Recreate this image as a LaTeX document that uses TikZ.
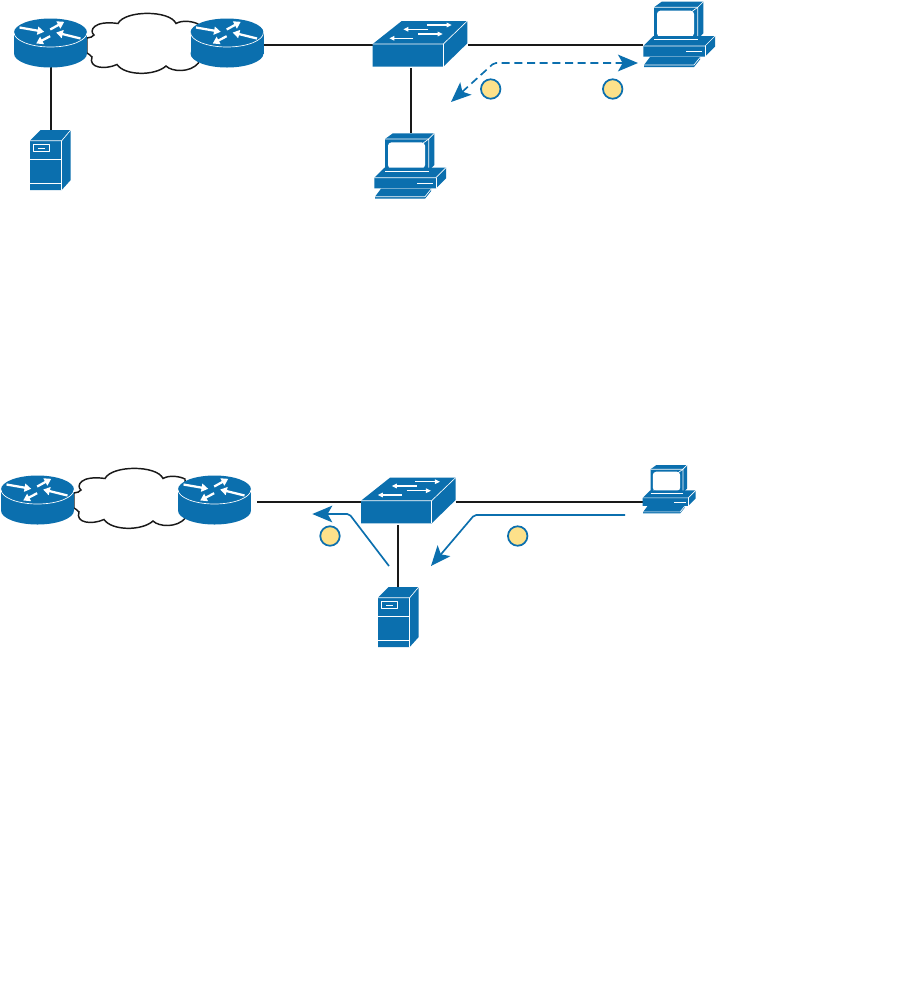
\documentclass[tikz,border=0pt]{standalone}
\usetikzlibrary{arrows.meta}
\definecolor{netblue}{HTML}{0B6FAE}
\definecolor{tagyellow}{HTML}{FDE18A}
\tikzset{
  x=0.75pt,y=-0.75pt,
  hit/.style={inner sep=0pt,outer sep=0pt},
  wire/.style={draw=black!90,line width=1.35pt},
  flow/.style={draw=netblue,line width=1.25pt,rounded corners=1.5pt,-{Stealth[length=15pt,width=12.5pt,inset=3.5pt]}},
  tag/.style={circle,draw=netblue,fill=tagyellow,line width=1.3pt,minimum size=14.6pt,inner sep=0pt},
  body/.style={fill=netblue,draw=none},
  edge/.style={draw=white,line width=0.5pt,line join=round},
  tiny/.style={draw=white,line width=1.7pt,-{Triangle[length=5pt,width=6pt]}},
  thin tiny/.style={draw=white,line width=0.8pt,-{Triangle[length=3.8pt,width=3.4pt]}},
  cloudy/.style={draw=black!90,fill=white,line width=1.1pt},
  router/.pic={
    \fill[body] (-36.5,0) rectangle (36.5,21);
    \fill[body] (0,21) ellipse [x radius=36.5,y radius=14];
    \fill[body] (0,0) ellipse [x radius=36.5,y radius=14];
    \draw[edge] (-36.5,0) arc [start angle=180,end angle=0,x radius=36.5,y radius=14.5];
    \draw[tiny] (-31,-5) -- (-6.3,-0.7);
    \draw[tiny] (-0.3,-3) -- (13.7,-10.7);
    \draw[tiny] (30,6) -- (5.7,0);
    \draw[tiny] (-0.3,3.7) -- (-14.3,11);
  },
  switchbox/.pic={
    \fill[body] (0,23) -- (29,0) -- (94.6,0) -- (94.6,22.3) -- (70.6,45.7) -- (0,45.7) -- cycle;
    \draw[edge] (0,23) -- (70.6,23) -- (94.6,0);
    \draw[edge] (70.6,23) -- (70.6,45.7);
    \draw[thin tiny] (54,4) -- (79,4);
    \draw[thin tiny] (55.6,8.3) -- (30.7,8.3);
    \draw[thin tiny] (45.7,13) -- (70,13);
    \draw[thin tiny] (40.7,17.3) -- (16.7,17.3);
  },
  desktop/.pic={
    \fill[body] (12,7.3) -- (19.7,1.7) -- (61.3,1.7) -- (61.3,33.3) -- (55.7,39.3) -- (12,39.3) -- cycle;
    \draw[edge] (12,7.3) -- (55.7,7.3) -- (61.3,1.7);
    \draw[edge] (55.7,7.3) -- (55.7,39.3) -- (12,39.3) -- cycle;
    \fill[white,rounded corners=2.5pt] (15,10.7) rectangle (52,36.7);
    \fill[body] (1.3,46) -- (11.3,36) -- (73,36) -- (73,46.7) -- (63,56.7) -- (1.3,56.7) -- cycle;
    \draw[edge] (12,39.3) -- (55.7,39.3);
    \draw[edge] (1.3,46) -- (63,46) -- (73,36);
    \draw[edge] (63,46) -- (63,56.7);
    \draw[draw=white,line width=0.8pt] (44,51.7) -- (60.3,51.7);
    \fill[body] (2,65) -- (8,57) -- (58,57) -- (58,59.5) -- (52,67) -- (2,67) -- cycle;
    \draw[edge] (2,65) -- (52,65) -- (58,57.5);
  },
  tower/.pic={
    \fill[body] (0,10.7) -- (10.7,0) -- (40.7,0) -- (40.7,50) -- (31.7,60) -- (0,60) -- cycle;
    \draw[edge] (0,10.7) -- (31.7,10.7) -- (40.7,0);
    \draw[edge] (31.7,10.7) -- (31.7,60);
    \draw[edge] (3.3,14) rectangle (19.3,21.7);
    \draw[edge] (8.3,18) -- (15,18);
    \draw[edge] (0,29.3) -- (31.7,29.3);
    \draw[edge] (0,53.3) -- (31.7,53.3);
  },
  cloudshape/.pic={
    \path[cloudy] (87,38) .. controls (90,37.5) and (93,37) .. (94,35)
      .. controls (89,31) and (93,20) .. (118,23.5)
      .. controls (125,10) and (170,10) .. (176,23.5)
      .. controls (182,20) and (192,21) .. (198,24)
      -- (198.5,63)
      .. controls (190,73) and (172,72) .. (166,66)
      .. controls (155,76) and (125,76) .. (117,64.5)
      .. controls (105,70) and (88,68) .. (92,57)
      .. controls (90,55) and (89,54) .. (87,53) -- cycle;
  }
}
\begin{document}
\begin{tikzpicture}
\useasboundingbox (0,0) rectangle (915,1001);
\fill[white] (0,0) rectangle (915,1001);
% hit areas of the icons, used by the connectors
\node[hit,minimum width=54.75pt,minimum height=36.75pt] (r1) at (51,42.5) {};
\node[hit,minimum width=54.75pt,minimum height=33pt] (r2) at (227,45) {};
\node[hit,minimum width=71.25pt,minimum height=34.5pt] (sw1) at (420.5,45) {};
\node[hit,minimum width=54pt,minimum height=49.5pt] (pc1) at (679,45) {};
\node[hit,minimum width=54pt,minimum height=49.5pt] (pc2) at (411,165.5) {};
\node[hit,minimum width=30.75pt,minimum height=45pt] (srv1) at (51,160) {};
\node[hit,minimum width=54.75pt,minimum height=36.75pt] (r3) at (37.5,499.5) {};
\node[hit,minimum width=54.75pt,minimum height=33pt] (r4) at (214,502) {};
\node[hit,minimum width=71.25pt,minimum height=34.5pt] (sw2) at (408,502) {};
\node[hit,minimum width=40pt,minimum height=36pt] (pc3) at (669.5,502) {};
\node[hit,minimum width=30.75pt,minimum height=45pt] (srv2) at (398,617) {};
% connectors
\draw[wire] (r1.south) -- (srv1.north);
\draw[wire] (r2.east) -- (sw1.west);
\draw[wire] (sw1.east) -- (pc1.west);
\draw[wire] (pc2 |- sw1.south) -- (pc2.north);
\draw[wire,shorten <=4.9pt] (r4.east) -- (sw2.west);
\draw[wire] (sw2.east) -- (pc3.west);
\draw[wire] (srv2 |- sw2.south) -- (srv2.north);
% clouds
\pic at (0,0) {cloudshape};
\pic at (-13,455) {cloudshape};
% icons
\pic at (50.5,32.5) {router};
\pic at (227,32.5) {router};
\pic at (37.5,489.5) {router};
\pic at (214.5,489.5) {router};
\pic at (372.7,21) {switchbox};
\pic at (361,477.7) {switchbox};
\pic at (642,0) {desktop};
\pic at (373,131.7) {desktop};
\pic[scale=.74] at (641.7,463.8) {desktop};
\pic at (30,130) {tower};
\pic at (378,587) {tower};
% flows
\coordinate (a1) at (638,63);
\coordinate (a2) at (494,63);
\coordinate (a3) at (451,102);
\draw[flow,dash pattern=on 6pt off 3.5pt,{Stealth[length=15pt,width=12.5pt,inset=3.5pt]}-{Stealth[length=15pt,width=12.5pt,inset=3.5pt]}] (a3) -- (a2) -- (a1);
\coordinate (b1) at (389,566);
\coordinate (b2) at (349.3,514);
\coordinate (b3) at (312.3,514);
\draw[flow] (b1) -- (b2) -- (b3);
\coordinate (c1) at (625,515);
\coordinate (c2) at (474.3,515);
\coordinate (c3) at (431,566);
\draw[flow] (c1) -- (c2) -- (c3);
% tags
\node[tag] (t1) at (490.7,89) {};
\node[tag] (t2) at (612.7,89) {};
\node[tag] (t3) at (330,536) {};
\node[tag] (t4) at (517.7,536) {};
\end{tikzpicture}
\end{document}
